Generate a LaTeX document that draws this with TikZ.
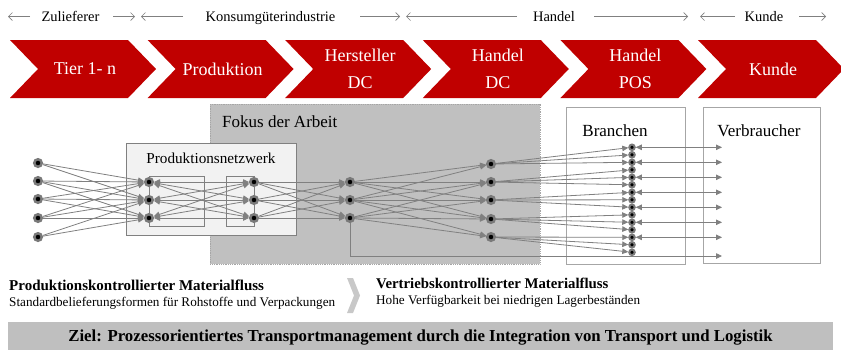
\documentclass[tikz,border=0pt]{standalone}
\usepackage{fontspec}
\setmainfont{Liberation Serif}
\usetikzlibrary{arrows.meta}
\definecolor{cred}{HTML}{C00000}
\definecolor{lngray}{HTML}{808080}
\definecolor{dotgray}{HTML}{7A7A7A}
\definecolor{focusgray}{HTML}{C0C0C0}
\definecolor{netfill}{HTML}{F2F2F2}
\definecolor{boxgray}{HTML}{A6A6A6}
\definecolor{bargray}{HTML}{BFBFBF}
\definecolor{chevgray}{HTML}{C8C8C8}
\tikzset{
  dot/.style={circle, fill=black, draw=dotgray, line width=2.5pt, minimum size=7.5pt, inner sep=0pt},
  sdot/.style={circle, fill=black, draw=dotgray, line width=2pt, minimum size=5.5pt, inner sep=0pt},
  conn/.style={draw=lngray, line width=0.8pt, -{Triangle[length=6pt,width=5.5pt]}},
  bconn/.style={draw=lngray, line width=0.8pt, {Triangle[length=6pt,width=5.5pt]}-{Triangle[length=6pt,width=5.5pt]}},
  hdrarrow/.style={draw=lngray, line width=0.7pt, -{Straight Barb[length=4pt,width=8pt]}},
  hdrtext/.style={font=\fontsize{14.5}{16}\selectfont, anchor=base, inner sep=0pt},
  chevtext/.style={font=\fontsize{18}{27}\selectfont, text=white, align=center, inner sep=0pt},
  boxtitle/.style={font=\fontsize{17}{20}\selectfont, inner sep=0pt},
}
\begin{document}
\begin{tikzpicture}[x=1pt,y=-1pt]
\useasboundingbox (0,0) rectangle (841,354);
\begin{scope}
\clip (0,0) rectangle (841,354);
% header
\node[hdrtext] (hz) at (70.5,21.5) {Zulieferer};
\node[hdrtext] (hk) at (270.5,21.5) {Konsumgüterindustrie};
\node[hdrtext] (hh) at (554,21.5) {Handel};
\node[hdrtext] (hc) at (764,21.5) {Kunde};
\coordinate (z1) at (30,16.5); \coordinate (z1e) at (8,16.5);
\coordinate (z2) at (113,16.5); \coordinate (z2e) at (135,16.5);
\coordinate (k1) at (183,16.5); \coordinate (k1e) at (141,16.5);
\coordinate (k2) at (360,16.5); \coordinate (k2e) at (400,16.5);
\coordinate (h1) at (517,16.5); \coordinate (h1e) at (406,16.5);
\coordinate (h2) at (594,16.5); \coordinate (h2e) at (688,16.5);
\coordinate (c1) at (735,16.5); \coordinate (c1e) at (700,16.5);
\coordinate (c2) at (799,16.5); \coordinate (c2e) at (826,16.5);
\foreach \a/\b in {z1/z1e,z2/z2e,k1/k1e,k2/k2e,h1/h1e,h2/h2e,c1/c1e,c2/c2e}
  \draw[hdrarrow] (\a) -- (\b);
% chevrons
\foreach \i/\x/\t in {1/10/{Tier 1- n},2/147.6/{Produktion},3/285.2/{Hersteller\\DC},4/422.8/{Handel\\DC},5/560.4/{Handel\\POS},6/698/{Kunde}}{
  \fill[cred] (\x,40) -- ++(118,0) -- ++(28,29) -- ++(-28,29) -- ++(-118,0) -- ++(28,-29) -- cycle;
  \node[chevtext] (ch\i) at (\x+75,69) {\t};
}
\end{scope}
% focus box
\fill[focusgray] (210,104) rectangle (540,264);
\draw[boxgray, densely dotted, line width=0.8pt] (210,104) rectangle (540,264);
\node[boxtitle, anchor=base west] (fokus) at (222,127.5) {Fokus der Arbeit};
% Produktionsnetzwerk
\draw[lngray, fill=netfill, line width=0.8pt] (126,143) rectangle (296,235);
\node[font=\fontsize{15.2}{18}\selectfont, inner sep=0pt, anchor=base] (pn) at (211,163) {Produktionsnetzwerk};
\draw[lngray, line width=0.8pt] (149,176) rectangle (204,226);
\draw[lngray, line width=0.8pt] (226,176) rectangle (254,226);
% Branchen / Verbraucher
\draw[boxgray, fill=white, line width=0.8pt] (566,107) rectangle (685,264);
\draw[boxgray, fill=white, line width=0.8pt] (703,107) rectangle (820,263);
\node[boxtitle, anchor=base] (br) at (615,136) {Branchen};
\node[boxtitle, anchor=base] (vb) at (759,136) {Verbraucher};
% nodes
\foreach \i/\y in {1/163,2/181,3/199,4/218,5/237} \node[dot] (s\i) at (38,\y) {};
\foreach \i/\y in {1/182,2/200,3/218} {
  \node[dot] (a\i) at (149,\y) {};
  \node[dot] (b\i) at (254,\y) {};
  \node[dot] (c\i) at (350,\y) {};
}
\foreach \i/\y in {1/164,2/182,3/200,4/219,5/237} \node[dot] (d\i) at (491,\y) {};
\foreach \i in {1,...,15} \node[sdot] (e\i) at (632,{147.3+7.5*(\i-1)}) {};
\foreach \k/\i in {1/1,2/3,3/5,4/7,5/9,6/11,7/13} \coordinate (v\k) at (722,{147.3+7.5*(\i-1)});
\coordinate (v8) at (722,256);
% connections
\foreach \s/\t in {s1/a1,s1/a2,s2/a1,s2/a2,s2/a3,s3/a1,s3/a2,s3/a3,s4/a1,s4/a2,s4/a3,s5/a2,s5/a3}
  \draw[conn] (\s) -- (\t);
\foreach \i in {1,2,3}{
  \foreach \j in {1,2,3}{
    \draw[bconn] (a\i) -- (b\j);
    \draw[conn] (b\i) -- (c\j);
  }
}
\foreach \s/\t in {c1/d1,c1/d2,c1/d3,c1/d4,c2/d1,c2/d2,c2/d3,c2/d4,c2/d5,c3/d2,c3/d3,c3/d4,c3/d5}
  \draw[conn] (\s) -- (\t);
\foreach \k in {1,...,5}{
  \pgfmathtruncatemacro{\ea}{3*\k-2}
  \pgfmathtruncatemacro{\eb}{3*\k-1}
  \pgfmathtruncatemacro{\ec}{3*\k}
  \draw[conn] (d\k) -- (e\ea);
  \draw[conn] (d\k) -- (e\eb);
  \draw[conn] (d\k) -- (e\ec);
}
\foreach \k/\i in {1/1,2/3,3/5,4/7,5/9,6/11,7/13}
  \draw[bconn] (e\i) -- (v\k);
\draw[conn] (c3.south) |- (v8);
% bottom texts
\fill[chevgray] (347,278) -- (353,278) -- (360,295.5) -- (353,313) -- (347,313) -- (354,295.5) -- cycle;
\node[font=\bfseries\fontsize{15}{16}\selectfont, anchor=base west, inner sep=0pt] (pk) at (9,290.5) {Produktionskontrollierter Materialfluss};
\node[font=\fontsize{13.2}{14}\selectfont, anchor=base west, inner sep=0pt] (pks) at (9,306) {Standardbelieferungsformen für Rohstoffe und Verpackungen};
\node[font=\bfseries\fontsize{14.8}{16}\selectfont, anchor=base west, inner sep=0pt] (vk) at (376,288.5) {Vertriebskontrollierter Materialfluss};
\node[font=\fontsize{13.2}{14}\selectfont, anchor=base west, inner sep=0pt] (vks) at (376,304) {Hohe Verfügbarkeit bei niedrigen Lagerbeständen};
\fill[bargray] (8,322) rectangle (833,350);
\node[font=\bfseries\fontsize{16.8}{18}\selectfont, inner sep=0pt, anchor=base] (ziel) at (420.5,341) {Ziel: Prozessorientiertes Transportmanagement durch die Integration von Transport und Logistik};
\end{tikzpicture}
\end{document}
